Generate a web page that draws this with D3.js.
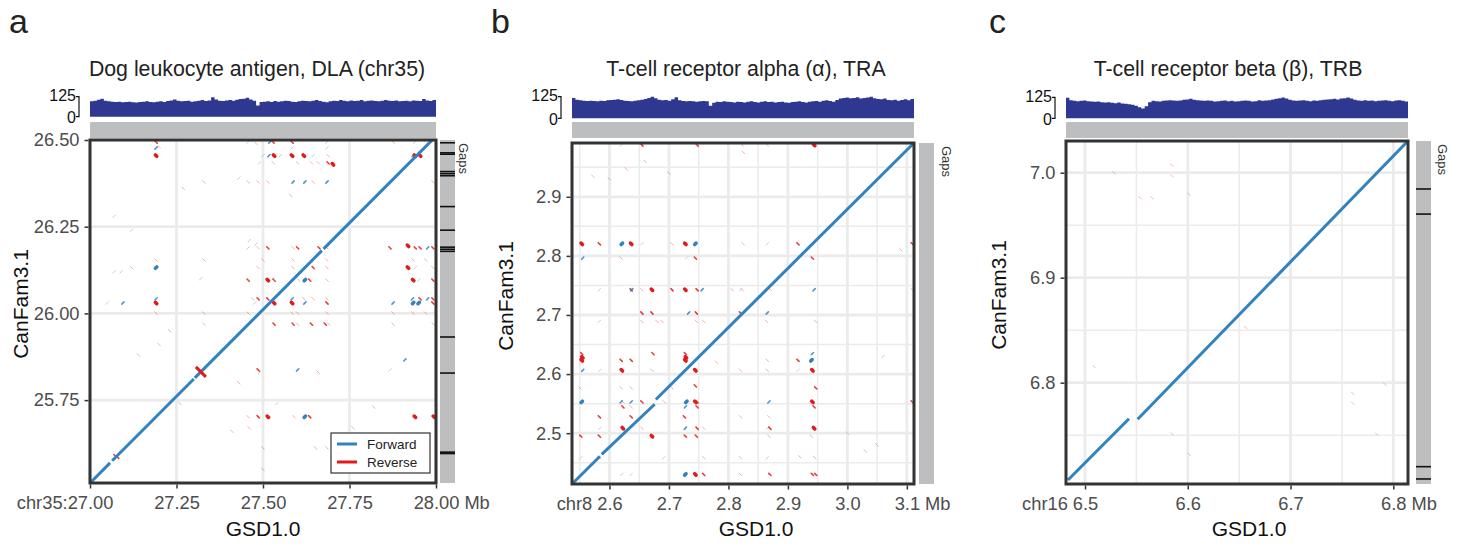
<!DOCTYPE html>
<html>
<head>
<meta charset="utf-8">
<script src="https://d3js.org/d3.v7.min.js"></script>
<style>
  body { margin: 0; background: #fff; }
  svg text { font-family: "Liberation Sans", Arial, Helvetica, sans-serif; }
</style>
</head>
<body>
<svg id="fig" width="1463" height="551"></svg>
<script>
// ---------- data (Mb) ----------
var panelLetters = ["a", "b", "c"];
var panelTitles = ["Dog leukocyte antigen, DLA (chr35)", "T-cell receptor alpha (\u03b1), TRA", "T-cell receptor beta (\u03b2), TRB"];
var chromLabels = ["chr35:", "chr8", "chr16"];
var xAxisTitle = "GSD1.0";
var yAxisTitle = "CanFam3.1";
var strandLabels = ["Forward", "Reverse"];
var covMax = 125;

var dlaX = [27.0, 28.0], dlaY = [25.511, 26.5];
var traX = [2.537, 3.112], traY = [2.414, 2.991];
var trbX = [6.4815, 6.8143], trbY = [6.7035, 7.0302];

var dlaXTicks = [27.0, 27.25, 27.5, 27.75, 28.0];
var dlaYTicks = [25.75, 26.0, 26.25, 26.5];
var traXTicks = [2.6, 2.7, 2.8, 2.9, 3.0, 3.1];
var traYTicks = [2.5, 2.6, 2.7, 2.8, 2.9];
var traXMinor = [2.55, 2.65, 2.75, 2.85, 2.95, 3.05];
var traYMinor = [2.45, 2.55, 2.65, 2.75, 2.85, 2.95];
var trbXTicks = [6.5, 6.6, 6.7, 6.8];
var trbYTicks = [6.8, 6.9, 7.0];
var trbXMinor = [6.55, 6.65, 6.75];
var trbYMinor = [6.75, 6.85, 6.95];

// main alignments: [x1, y1, x2, y2, strand]
var dlaAlign = [
  [27.000, 25.511, 27.058, 25.569, "f"],
  [27.064, 25.575, 27.300, 25.811, "f"],
  [27.303, 25.814, 27.670, 26.181, "f"],
  [27.675, 26.186, 27.995, 26.506, "f"],
  [27.306, 25.846, 27.335, 25.817, "r"]
];
var traAlign = [
  [2.538, 2.415, 2.584, 2.461, "f"],
  [2.587, 2.464, 2.676, 2.549, "f"],
  [2.678, 2.557, 3.113, 2.992, "f"]
];
var trbAlign = [
  [6.4834, 6.7073, 6.5428, 6.7657, "f"],
  [6.5512, 6.7651, 6.8140, 7.0300, "f"]
];

// short repeat hits: [x, y, strand, strength 1..3]
var dlaHits = [
  [27.191,26.494,"r",2],[27.520,26.494,"f",2],[27.529,26.494,"r",2],[27.584,26.494,"r",2],[27.685,26.494,"f",1],[27.876,26.494,"r",1],[27.939,26.494,"f",1],[27.457,26.494,"f",1],[27.48,26.49,"r",1],
  [27.191,26.477,"f",2],[27.685,26.477,"f",1],[27.584,26.477,"f",1],
  [27.191,26.455,"r",3],[27.517,26.455,"f",2],[27.532,26.455,"r",3],[27.584,26.455,"r",3],[27.618,26.455,"r",3],[27.645,26.455,"f",1],[27.688,26.455,"r",1],[27.934,26.455,"f",2],[27.939,26.455,"r",3],[27.954,26.455,"r",3],[27.50,26.455,"f",1],[27.55,26.455,"f",1],
  [27.688,26.434,"r",2],[27.702,26.430,"r",3],[27.60,26.434,"r",1],[27.64,26.434,"r",1],[27.66,26.434,"r",1],[27.53,26.434,"r",1],[27.49,26.434,"f",1],
  [27.329,26.379,"r",1],[27.457,26.379,"r",1],[27.486,26.379,"r",1],[27.514,26.379,"r",1],[27.587,26.379,"f",2],[27.621,26.379,"f",2],[27.645,26.379,"r",1],[27.685,26.379,"f",2],[27.991,26.379,"r",1],
  [27.12,26.24,"f",1],[27.27,26.36,"r",1],[27.58,26.34,"r",1],[27.43,26.39,"f",1],[27.20,26.48,"r",1],[27.07,26.28,"f",1],
  [27.457,26.189,"f",1],[27.486,26.189,"r",1],[27.514,26.189,"r",2],[27.587,26.189,"r",1],[27.60,26.189,"r",2],[27.662,26.189,"r",2],[27.685,26.189,"r",1],[27.867,26.189,"r",2],[27.919,26.195,"r",3],[27.94,26.189,"r",2],[27.954,26.189,"r",2],[27.976,26.189,"f",2],[27.991,26.189,"r",2],[27.48,26.20,"f",1],[27.46,26.21,"f",1],
  [27.191,26.154,"r",1],[27.329,26.154,"r",1],[27.500,26.154,"r",1],[27.587,26.154,"r",1],[27.684,26.154,"r",1],[27.934,26.154,"r",1],[27.97,26.154,"r",1],
  [27.191,26.132,"f",3],[27.486,26.132,"r",1],[27.587,26.132,"r",1],[27.645,26.132,"r",2],[27.685,26.132,"r",1],[27.919,26.132,"r",3],[27.94,26.132,"f",1],[27.991,26.132,"r",1],[27.12,26.132,"r",1],[27.07,26.12,"f",1],[27.09,26.12,"f",1],
  [27.457,26.096,"r",2],[27.514,26.096,"r",3],[27.532,26.096,"r",2],[27.603,26.096,"r",1],[27.621,26.096,"f",3],[27.635,26.096,"r",2],[27.685,26.096,"r",1],[27.934,26.096,"r",3],[27.991,26.096,"r",2],[27.950,26.096,"f",1],[27.529,26.10,"f",1],[27.32,26.10,"f",1],
  [27.191,26.042,"f",2],[27.486,26.042,"r",2],[27.514,26.042,"r",2],[27.584,26.042,"f",2],[27.618,26.042,"r",1],[27.645,26.042,"r",1],[27.685,26.042,"r",1],[27.932,26.042,"f",2],[27.954,26.042,"r",2],[27.976,26.042,"f",2],[27.991,26.042,"r",2],[27.47,26.042,"r",1],
  [27.095,26.030,"f",2],[27.191,26.030,"r",3],[27.532,26.030,"r",3],[27.584,26.030,"r",3],[27.621,26.030,"f",2],[27.685,26.030,"r",2],[27.876,26.030,"f",2],[27.934,26.030,"f",3],[27.950,26.030,"f",3],[27.991,26.030,"r",2],[27.476,26.030,"f",1],
  [27.191,26.001,"r",1],[27.329,26.001,"r",1],[27.457,26.001,"r",1],[27.584,26.001,"r",1],[27.60,26.001,"r",1],[27.685,26.001,"r",1],[27.876,26.001,"r",1],[27.934,26.001,"r",1],[27.97,26.001,"r",1],
  [27.329,25.969,"r",1],[27.532,25.969,"r",2],[27.587,25.969,"r",2],[27.60,25.969,"r",1],[27.64,25.969,"r",2],[27.68,25.969,"r",2],[27.69,25.969,"r",1],[27.876,25.969,"r",1],[27.992,25.969,"r",1],
  [27.486,25.837,"r",2],[27.49,25.830,"f",1],[27.60,25.837,"f",2],[27.867,25.837,"f",1],[27.66,25.830,"r",1],[27.43,25.80,"r",1],[27.910,25.866,"f",2],
  [27.457,25.702,"r",1],[27.486,25.702,"r",2],[27.514,25.702,"r",3],[27.590,25.702,"r",1],[27.621,25.702,"f",3],[27.635,25.702,"r",2],[27.939,25.702,"r",3],[27.994,25.702,"r",3],
  [27.652,25.612,"r",1],[27.685,25.612,"r",1],[27.50,25.612,"r",1],
  [27.26,25.74,"r",1],[27.14,25.88,"r",1],[27.20,25.91,"r",1],[27.54,25.74,"f",1],[27.46,25.67,"r",1],[27.82,25.73,"r",1],
  [27.072,25.590,"r",2],[27.080,25.585,"r",2],[27.41,25.66,"r",1],[27.50,25.55,"r",1],[27.76,25.67,"r",1],[27.23,25.95,"r",1],[27.05,26.03,"f",1]
];

var traHits = [
  [2.6196,2.9876,"f",1],[2.6545,2.9876,"r",2],[2.7473,2.9876,"r",2],[2.8232,2.9876,"r",1],[2.8653,2.9876,"r",1],[2.9440,2.9876,"r",3],
  [2.5534,2.8204,"r",3],[2.5830,2.8204,"r",2],[2.6208,2.8204,"f",3],[2.6365,2.8204,"r",3],[2.6545,2.8204,"f",1],[2.7051,2.8204,"r",1],[2.7276,2.8204,"r",3],[2.7444,2.8204,"f",3],[2.8248,2.8204,"r",1],[2.8653,2.8204,"f",1],[2.9169,2.8204,"r",2],[2.9420,2.8204,"f",2],[3.109,2.8204,"r",2],
  [2.5550,2.7962,"f",2],[2.6196,2.7962,"r",1],[2.7293,2.7962,"f",1],[2.7444,2.7962,"r",2],[2.9412,2.7962,"r",2],
  [2.5830,2.7427,"f",1],[2.6365,2.7427,"r",2],[2.6375,2.7427,"f",2],[2.6545,2.7427,"r",1],[2.6714,2.7427,"r",3],[2.7051,2.7427,"r",2],[2.7276,2.7427,"r",3],[2.7473,2.7427,"r",2],[2.7557,2.7427,"f",2],[2.8063,2.7427,"r",1],[2.8203,2.7427,"f",1],[2.8232,2.7427,"r",1],[2.8709,2.7427,"r",1],[2.9440,2.7427,"f",2],[3.109,2.7427,"r",1],
  [2.6545,2.7033,"r",2],[2.6714,2.7033,"r",2],[2.7331,2.7033,"f",2],[2.7461,2.7033,"r",2],[2.8203,2.7033,"r",2],[2.8653,2.7033,"f",2],
  [2.5830,2.6891,"f",1],[2.6545,2.6891,"r",1],[2.6798,2.6891,"r",1],[2.6883,2.6891,"r",1],[2.7461,2.6891,"r",1],[2.7584,2.6891,"r",1],[2.8642,2.6891,"r",1],[2.9468,2.6891,"r",1],
  [2.5534,2.6346,"r",2],[2.6731,2.6346,"r",2],[2.7276,2.6346,"r",2],[2.9412,2.6346,"f",2],
  [2.5534,2.6233,"r",3],[2.5544,2.6283,"r",3],[2.6196,2.6233,"r",2],[2.6365,2.6233,"r",2],[2.7276,2.6233,"r",3],[2.7286,2.6283,"r",3],[2.8653,2.6233,"r",1],[2.9169,2.6233,"r",2],[2.9395,2.6233,"f",3],
  [2.5550,2.6064,"f",2],[2.5842,2.6064,"f",1],[2.6208,2.6064,"r",3],[2.6714,2.6064,"r",1],[2.7444,2.6064,"r",3],[2.8203,2.6064,"r",1],[2.8653,2.6064,"r",1],[2.9169,2.6064,"f",1],[2.9412,2.6064,"r",3],
  [2.5505,2.5766,"r",1],[2.6196,2.5766,"r",1],[2.6365,2.5766,"r",1],[2.7051,2.5766,"r",1],[2.7444,2.5800,"r",2],[2.9468,2.5766,"r",2],
  [2.5534,2.5530,"f",3],[2.6196,2.5530,"f",2],[2.6225,2.5530,"r",1],[2.6365,2.5530,"f",2],[2.6545,2.5530,"r",2],[2.6921,2.5530,"r",1],[2.7293,2.5530,"f",3],[2.7444,2.5530,"r",3],[2.7473,2.5530,"r",2],[2.8681,2.5530,"f",2],[2.9412,2.5530,"r",3],[3.109,2.5530,"r",2],
  [2.6225,2.5445,"r",2],[2.6365,2.5445,"r",1],[2.7276,2.5445,"f",2],[2.7473,2.5445,"r",2],[2.9440,2.5445,"r",2],
  [2.5830,2.5277,"r",2],[2.6365,2.5277,"r",2],[2.7259,2.5277,"r",2],[2.8203,2.5277,"r",1],[2.8681,2.5277,"r",1],
  [2.5842,2.5084,"f",1],[2.6225,2.5084,"r",3],[2.6545,2.5084,"r",1],[2.7276,2.5084,"f",2],[2.7473,2.5084,"r",2],[2.7584,2.5084,"r",1],[2.8653,2.5084,"f",1],[2.8697,2.5084,"r",2],[2.9440,2.5084,"r",3],
  [2.5517,2.4949,"r",2],[2.5830,2.4949,"r",2],[2.6714,2.4949,"r",3],[2.7276,2.4949,"r",2],[2.7461,2.4949,"r",2],[2.8681,2.4949,"r",1],[2.9395,2.4949,"r",1],
  [2.5517,2.4584,"f",1],[2.5830,2.4584,"r",1],[2.6910,2.4584,"f",1],[2.7584,2.4584,"r",1],[2.8203,2.4584,"r",1],[2.8653,2.4584,"f",1],[2.9451,2.4584,"r",1],
  [2.6208,2.4302,"f",1],[2.6365,2.4302,"f",1],[2.7276,2.4302,"f",3],[2.7444,2.4302,"r",3],[2.7584,2.4302,"r",2],[2.8203,2.4302,"r",1],[2.8697,2.4302,"r",2],[2.9412,2.4302,"r",2],[2.9468,2.4302,"r",2],
  [2.572,2.935,"r",1],[2.600,2.930,"r",1],[2.628,2.947,"r",1],[2.660,2.960,"r",1],[2.700,2.940,"r",1],[2.825,2.975,"r",1],
  [3.050,2.480,"r",1],[3.060,2.630,"f",1],[3.030,2.470,"r",1],[2.920,2.460,"r",1],[3.000,2.500,"r",1],[2.780,2.620,"r",1],[3.090,2.810,"r",1]
];

var trbHits = [
  [6.5282,6.9997,"r",1],[6.5843,7.0073,"r",1],[6.5846,6.9971,"r",1],[6.5535,6.9762,"r",1],[6.5652,6.9762,"r",1],[6.6014,6.9794,"r",1],
  [6.6563,6.8527,"r",1],[6.5090,6.8152,"r",1],[6.5849,6.7511,"r",1],[6.6014,6.7318,"r",1],[6.7604,6.7899,"r",1],[6.7604,6.7804,"r",1],
  [6.7918,6.7985,"r",1],[6.7837,6.7511,"r",1]
];

// assembly gaps on CanFam3.1 (Mb)
var dlaGaps = [26.492, 26.463, 26.459, 26.409, 26.403, 26.397, 26.308, 26.240, 26.191, 26.185, 26.179, 25.932, 25.828, 25.600, 25.596];
var traGaps = [];
var trbGaps = [6.9845, 6.9606, 6.7200, 6.7083];

// read coverage in 100 equal bins across the GSD1.0 window
var dlaCoverage = [96,100,106,112,100,96,94,92,94,90, 92,94,90,88,92,94,96,92,90,94,
  96,92,98,102,108,100,96,98,100,94, 96,100,104,98,102,122,108,100,98,102,
  104,100,106,110,112,118,108,100,70,92, 94,96,92,98,94,96,100,98,94,92,
  96,100,98,96,100,104,98,94,90,96, 100,98,104,100,96,102,98,100,104,96,
  100,102,98,96,100,104,100,98,102,96, 98,100,96,102,100,98,110,102,98,104];
var traCoverage = [118,108,104,102,100,102,100,98,102,100, 104,106,108,110,106,102,100,98,102,104,
  108,112,118,124,116,108,104,106,102,110, 122,104,100,98,100,98,96,98,100,98,
  72,90,96,94,98,96,94,92,96,94, 92,96,98,94,92,96,98,94,96,92,
  94,96,92,90,94,96,98,94,92,96, 98,100,96,102,104,100,96,106,114,118,
  120,116,118,122,114,118,120,124,116,112, 110,114,106,104,108,102,106,110,104,112];
var trbCoverage = [122,108,104,102,104,106,102,100,98,100, 96,94,96,92,90,94,88,86,84,80,
  74,66,58,72,96,104,102,100,104,106, 108,106,104,106,110,112,116,110,108,106,
  104,106,104,100,102,104,106,102,104,100, 102,104,106,104,100,102,108,104,106,108,
  112,116,120,124,118,110,106,104,106,108, 104,102,106,104,108,110,112,114,116,112,
  118,120,124,118,110,106,104,108,104,106, 102,104,106,108,104,102,106,108,104,100];

// ---------- layout ----------
var BLUE = "#3182bd", RED = "#e31a1c", NAVY = "#2e3891", BAR = "#bcbec0", GRID = "#ebebeb", INK = "#333333", TICK = "#4d4d4d";

var panels = [
  { letter: panelLetters[0], title: panelTitles[0], chrom: chromLabels[0], chromGap: 0, fmt: ".2f",
    xDomain: dlaX, yDomain: dlaY, xTicks: dlaXTicks, yTicks: dlaYTicks, xMinor: [], yMinor: [],
    align: dlaAlign, hits: dlaHits, gaps: dlaGaps, cov: dlaCoverage, legend: true,
    left: 90, right: 436, top: 140, bottom: 483, covTop: 96.7, covBase: 116.7,
    letterX: 9, titleX: 257, xTitleX: 263, yTitleX: 28, yTitleY: 304, gapsX: 440, gapsTextX: 459 },
  { letter: panelLetters[1], title: panelTitles[1], chrom: chromLabels[1], chromGap: 5, fmt: ".1f",
    xDomain: traX, yDomain: traY, xTicks: traXTicks, yTicks: traYTicks, xMinor: traXMinor, yMinor: traYMinor,
    align: traAlign, hits: traHits, gaps: traGaps, cov: traCoverage, legend: false,
    left: 572, right: 914, top: 143, bottom: 484, covTop: 96.7, covBase: 118.3,
    letterX: 491, titleX: 746, xTitleX: 756, yTitleX: 513, yTitleY: 296, gapsX: 919, gapsTextX: 942 },
  { letter: panelLetters[2], title: panelTitles[2], chrom: chromLabels[2], chromGap: 5, fmt: ".1f",
    xDomain: trbX, yDomain: trbY, xTicks: trbXTicks, yTicks: trbYTicks, xMinor: trbXMinor, yMinor: trbYMinor,
    align: trbAlign, hits: trbHits, gaps: trbGaps, cov: trbCoverage, legend: false,
    left: 1066, right: 1408, top: 141, bottom: 484, covTop: 97.3, covBase: 118.3,
    letterX: 989, titleX: 1228, xTitleX: 1249, yTitleX: 1006, yTitleY: 295, gapsX: 1416, gapsTextX: 1438 }
];

var hitStyle = {
  1: { len: 1.3, width: 0.9, op: 0.4 },
  2: { len: 1.1, width: 1.6, op: 0.85 },
  3: { len: 0.7, width: 3.6, op: 1 }
};

var svg = d3.select("#fig");

panels.forEach(function(p, pi) {
  var g = svg.append("g");
  var x = d3.scaleLinear().domain(p.xDomain).range([p.left, p.right]);
  var y = d3.scaleLinear().domain(p.yDomain).range([p.bottom, p.top]);
  var cy = d3.scaleLinear().domain([0, covMax]).range([p.covBase, p.covTop]);

  // panel letter and title
  g.append("text").attr("x", p.letterX).attr("y", 33).attr("font-size", 34).attr("fill", "#222").text(p.letter);
  g.append("text").attr("x", p.titleX).attr("y", 76).attr("text-anchor", "middle")
    .attr("font-size", 21.3).attr("fill", "#222").text(p.title);

  // coverage track
  var n = p.cov.length, step = (p.xDomain[1] - p.xDomain[0]) / n;
  var covPts = p.cov.map(function(v, i) { return { x: p.xDomain[0] + i * step, v: v }; });
  covPts.push({ x: p.xDomain[1], v: p.cov[n - 1] });
  var area = d3.area().curve(d3.curveStepAfter)
    .x(function(d) { return x(d.x); }).y0(cy(0)).y1(function(d) { return cy(d.v); });
  g.append("path").datum(covPts).attr("d", area).attr("fill", NAVY);
  var bx = p.left - 11;
  g.append("path").attr("d", "M" + (bx - 3) + "," + cy(covMax) + "H" + bx + "V" + cy(0) + "H" + (bx - 3))
    .attr("fill", "none").attr("stroke", "#111").attr("stroke-width", 1.2);
  g.append("text").attr("x", bx - 3).attr("y", cy(covMax) + 4.5).attr("text-anchor", "end")
    .attr("font-size", 16).attr("fill", "#111").text(covMax);
  g.append("text").attr("x", bx - 3).attr("y", cy(0) + 6.5).attr("text-anchor", "end")
    .attr("font-size", 16).attr("fill", "#111").text(0);

  // grey sequence bar above plot
  g.append("rect").attr("x", p.left).attr("y", 122).attr("width", p.right - p.left).attr("height", 16).attr("fill", BAR);

  // gaps column
  g.append("rect").attr("x", p.gapsX).attr("y", p.top).attr("width", 15).attr("height", p.bottom - p.top).attr("fill", BAR);
  g.selectAll(null).data(p.gaps).enter().append("line")
    .attr("x1", p.gapsX).attr("x2", p.gapsX + 15)
    .attr("y1", function(d) { return y(d); }).attr("y2", function(d) { return y(d); })
    .attr("stroke", "#111").attr("stroke-width", 1.6);
  g.append("text").attr("transform", "translate(" + p.gapsTextX + "," + (p.top + 3) + ") rotate(90)")
    .attr("font-size", 13).attr("fill", INK).text("Gaps");

  // plot background & grid
  g.append("rect").attr("x", p.left).attr("y", p.top).attr("width", p.right - p.left).attr("height", p.bottom - p.top).attr("fill", "#fff");
  var grid = g.append("g");
  function vline(v, w) { grid.append("line").attr("x1", x(v)).attr("x2", x(v)).attr("y1", p.top).attr("y2", p.bottom).attr("stroke", GRID).attr("stroke-width", w); }
  function hline(v, w) { grid.append("line").attr("y1", y(v)).attr("y2", y(v)).attr("x1", p.left).attr("x2", p.right).attr("stroke", GRID).attr("stroke-width", w); }
  p.xMinor.forEach(function(v) { vline(v, 1.5); });
  p.yMinor.forEach(function(v) { hline(v, 1.5); });
  p.xTicks.forEach(function(v) { vline(v, 2.8); });
  p.yTicks.forEach(function(v) { hline(v, 2.8); });

  var clipId = "clip" + pi;
  svg.append("clipPath").attr("id", clipId).append("rect")
    .attr("x", p.left).attr("y", p.top).attr("width", p.right - p.left).attr("height", p.bottom - p.top);
  var plot = g.append("g").attr("clip-path", "url(#" + clipId + ")");

  // repeat hits
  plot.selectAll(null).data(p.hits).enter().append("line")
    .attr("x1", function(d) { return x(d[0]) - hitStyle[d[3]].len; })
    .attr("x2", function(d) { return x(d[0]) + hitStyle[d[3]].len; })
    .attr("y1", function(d) { var L = hitStyle[d[3]].len; return d[2] === "f" ? y(d[1]) + L : y(d[1]) - L; })
    .attr("y2", function(d) { var L = hitStyle[d[3]].len; return d[2] === "f" ? y(d[1]) - L : y(d[1]) + L; })
    .attr("stroke", function(d) { return d[2] === "f" ? BLUE : RED; })
    .attr("stroke-width", function(d) { return hitStyle[d[3]].width; })
    .attr("stroke-opacity", function(d) { return pi === 2 ? 0.35 : hitStyle[d[3]].op; })
    .attr("stroke-linecap", "round");

  // main alignments
  plot.selectAll(null).data(p.align).enter().append("line")
    .attr("x1", function(d) { return x(d[0]); }).attr("y1", function(d) { return y(d[1]); })
    .attr("x2", function(d) { return x(d[2]); }).attr("y2", function(d) { return y(d[3]); })
    .attr("stroke", function(d) { return d[4] === "f" ? BLUE : RED; })
    .attr("stroke-width", 3);

  // border
  g.append("rect").attr("x", p.left).attr("y", p.top).attr("width", p.right - p.left).attr("height", p.bottom - p.top)
    .attr("fill", "none").attr("stroke", INK).attr("stroke-width", 3);

  // axes
  var fmt = d3.format(p.fmt);
  var yg = g.append("g").attr("transform", "translate(" + (p.left - 1.5) + ",0)")
    .call(d3.axisLeft(y).tickValues(p.yTicks).tickFormat(fmt).tickSize(4).tickPadding(5));
  var xg = g.append("g").attr("transform", "translate(0," + (p.bottom + 1.5) + ")")
    .call(d3.axisBottom(x).tickValues(p.xTicks).tickFormat(fmt).tickSize(4).tickPadding(8));
  [yg, xg].forEach(function(ax) {
    ax.attr("font-family", null).attr("font-size", 18.3);
    ax.select(".domain").remove();
    ax.selectAll(".tick line").attr("stroke", INK).attr("stroke-width", 1.5);
    ax.selectAll(".tick text").attr("fill", TICK);
  });

  // chromosome prefix and unit suffix on the x labels
  var ticks = xg.selectAll(".tick").nodes();
  var first = d3.select(ticks[0]).select("text");
  var fw = first.node().getComputedTextLength();
  d3.select(ticks[0]).append("text").attr("x", -fw / 2 - p.chromGap).attr("y", first.attr("y")).attr("dy", first.attr("dy"))
    .attr("text-anchor", "end").attr("fill", TICK).text(p.chrom);
  var last = d3.select(ticks[ticks.length - 1]).select("text");
  var lw = last.node().getComputedTextLength();
  d3.select(ticks[ticks.length - 1]).append("text").attr("x", lw / 2 + 5).attr("y", last.attr("y")).attr("dy", last.attr("dy"))
    .attr("text-anchor", "start").attr("fill", TICK).text("Mb");

  // axis titles
  g.append("text").attr("x", p.xTitleX).attr("y", 536).attr("text-anchor", "middle")
    .attr("font-size", 21).attr("fill", "#111").text(xAxisTitle);
  g.append("text").attr("transform", "translate(" + p.yTitleX + "," + p.yTitleY + ") rotate(-90)")
    .attr("text-anchor", "middle").attr("font-size", 21).attr("fill", "#111").text(yAxisTitle);

  // legend
  if (p.legend) {
    var lg = g.append("g").attr("transform", "translate(331,433)");
    lg.append("rect").attr("width", 99).attr("height", 40).attr("fill", "#fff").attr("stroke", INK).attr("stroke-width", 1.2);
    strandLabels.forEach(function(s, i) {
      lg.append("line").attr("x1", 6).attr("x2", 26).attr("y1", 11 + i * 18).attr("y2", 11 + i * 18)
        .attr("stroke", i === 0 ? BLUE : RED).attr("stroke-width", 3);
      lg.append("text").attr("x", 36).attr("y", 16 + i * 18).attr("font-size", 13.5).attr("fill", "#222").text(s);
    });
  }
});
</script>
</body>
</html>
